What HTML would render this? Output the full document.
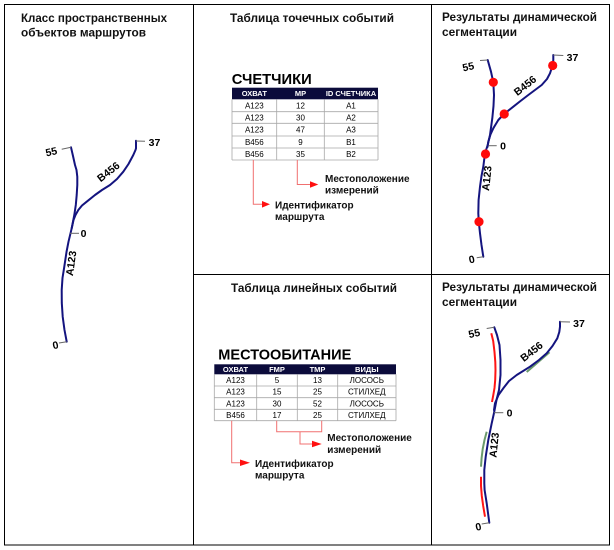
<!DOCTYPE html>
<html>
<head>
<meta charset="utf-8">
<style>
  html,body{margin:0;padding:0;background:#fff;}
  svg{display:block;}
  text{font-family:"Liberation Sans","Noto Sans CJK SC",sans-serif;}
  .title{font-size:11.5px;font-weight:bold;fill:#111;}
  .tt{font-size:15px;font-weight:bold;fill:#000;}
  .th{font-size:7.5px;font-weight:bold;fill:#fff;}
  .td{font-size:8px;fill:#000;}
  .ann{font-size:10px;font-weight:bold;fill:#111;}
  .lab{font-size:10.5px;font-weight:bold;fill:#000;}
  .route{fill:none;stroke:#14147f;stroke-width:2;stroke-linejoin:round;stroke-linecap:round;}
  .tick{stroke:#666;stroke-width:1;fill:none;}
  .grid{stroke:#a8a8a8;stroke-width:0.8;}
  .conn{stroke:#f07070;stroke-width:1;fill:none;}
</style>
</head>
<body>
<svg width="614" height="550" viewBox="0 0 614 550" xmlns="http://www.w3.org/2000/svg">
  <!-- frame -->
  <rect x="4.5" y="4.5" width="605" height="540.5" fill="none" stroke="#000" stroke-width="1"/>
  <line x1="193.5" y1="4.5" x2="193.5" y2="545" stroke="#000" stroke-width="1"/>
  <line x1="431.5" y1="4.5" x2="431.5" y2="545" stroke="#000" stroke-width="1"/>
  <line x1="193.5" y1="274.5" x2="609.5" y2="274.5" stroke="#000" stroke-width="1"/>

  <!-- titles -->
  <text class="title" x="21" y="22" textLength="146" lengthAdjust="spacingAndGlyphs">Класс пространственных</text>
  <text class="title" x="21" y="36.5" textLength="125" lengthAdjust="spacingAndGlyphs">объектов маршрутов</text>
  <text class="title" x="230" y="22" textLength="164" lengthAdjust="spacingAndGlyphs">Таблица точечных событий</text>
  <text class="title" x="442" y="21" textLength="155" lengthAdjust="spacingAndGlyphs">Результаты динамической</text>
  <text class="title" x="442" y="36" textLength="75" lengthAdjust="spacingAndGlyphs">сегментации</text>
  <text class="title" x="231" y="292" textLength="166" lengthAdjust="spacingAndGlyphs">Таблица линейных событий</text>
  <text class="title" x="442" y="291" textLength="155" lengthAdjust="spacingAndGlyphs">Результаты динамической</text>
  <text class="title" x="442" y="306" textLength="75" lengthAdjust="spacingAndGlyphs">сегментации</text>

  <!-- ===== Left panel map ===== -->
  <polyline class="route" points="66.7,341.7 64.5,330 62.7,316.7 61.8,303 61.7,290 62.5,278 64.3,266.7 66.5,252 68.5,241.7 71.7,228.3 74.3,215 75.8,205 76.7,195 77.3,185 77.3,176.7 76.5,170 75,165 73,156 71,147.3"/>
  <polyline class="route" points="71.7,228.3 73.5,220 75.5,215 78.3,210 82,205.5 86.7,201.7 95,195 102,190 110,185 117,179 123.3,171.7 128.5,164 133.3,155 135.5,150 136,148.3 136,140.7"/>
  <line class="tick" x1="71" y1="147.3" x2="61.7" y2="149.3"/>
  <line class="tick" x1="136" y1="141" x2="145" y2="141.3"/>
  <line class="tick" x1="70" y1="233.3" x2="79" y2="233.3"/>
  <line class="tick" x1="66.7" y1="341.7" x2="59" y2="343"/>
  <text class="lab" x="51.3" y="151.7" dy="0.35em" text-anchor="middle" transform="rotate(-12 51.3 151.7)">55</text>
  <text class="lab" x="154.5" y="142.3" dy="0.35em" text-anchor="middle">37</text>
  <text class="lab" x="83.5" y="233.3" dy="0.35em" text-anchor="middle">0</text>
  <text class="lab" x="55.5" y="345" dy="0.35em" text-anchor="middle" transform="rotate(-12 55.5 345)">0</text>
  <text class="lab" x="108.3" y="171.7" dy="0.35em" text-anchor="middle" transform="rotate(-38 108.3 171.7)">B456</text>
  <text class="lab" x="71" y="263.3" dy="0.35em" text-anchor="middle" transform="rotate(-82 71 263.3)">A123</text>

  <!-- ===== Top middle: point events table ===== -->
  <text class="tt" x="231.7" y="84" textLength="80" lengthAdjust="spacingAndGlyphs">СЧЕТЧИКИ</text>
  <rect x="232" y="87.7" width="146" height="11.6" fill="#0b0b3b"/>
  <text class="th" x="254.3" y="96" text-anchor="middle">ОХВАТ</text>
  <text class="th" x="300.5" y="96" text-anchor="middle">MP</text>
  <text class="th" x="351" y="96" text-anchor="middle">ID СЧЕТЧИКА</text>
  <g class="grid">
    <line x1="232" y1="111.7" x2="378" y2="111.7"/>
    <line x1="232" y1="123.3" x2="378" y2="123.3"/>
    <line x1="232" y1="136" x2="378" y2="136"/>
    <line x1="232" y1="148" x2="378" y2="148"/>
    <line x1="232" y1="160" x2="378" y2="160"/>
    <line x1="232" y1="99.3" x2="232" y2="160"/>
    <line x1="276.7" y1="99.3" x2="276.7" y2="160"/>
    <line x1="324.3" y1="99.3" x2="324.3" y2="160"/>
    <line x1="378" y1="99.3" x2="378" y2="160"/>
  </g>
  <g class="td" text-anchor="middle">
    <text x="254.3" y="108.5">A123</text><text x="300.5" y="108.5">12</text><text x="351" y="108.5">A1</text>
    <text x="254.3" y="120.5">A123</text><text x="300.5" y="120.5">30</text><text x="351" y="120.5">A2</text>
    <text x="254.3" y="132.5">A123</text><text x="300.5" y="132.5">47</text><text x="351" y="132.5">A3</text>
    <text x="254.3" y="145">B456</text><text x="300.5" y="145">9</text><text x="351" y="145">B1</text>
    <text x="254.3" y="157">B456</text><text x="300.5" y="157">35</text><text x="351" y="157">B2</text>
  </g>
  <polyline class="conn" points="253.3,160 253.3,204.3 263,204.3"/>
  <polygon points="262,201 262,207.6 270,204.3" fill="#ff1010"/>
  <polyline class="conn" points="297.3,160 297.3,184.5 311,184.5"/>
  <polygon points="310,181.3 310,187.8 318.3,184.5" fill="#ff1010"/>
  <text class="ann" x="325" y="182">Местоположение</text>
  <text class="ann" x="325" y="193.5">измерений</text>
  <text class="ann" x="275" y="208.5">Идентификатор</text>
  <text class="ann" x="275" y="220">маршрута</text>

  <!-- ===== Top right: point results ===== -->
  <polyline class="route" points="483.3,256.7 481.5,245 480,233.3 478.8,222 478.3,213.3 478.6,200 480,186.7 481.5,176 483.3,166.7 485,153.3 487.7,145 490,135 492.3,118.3 493.5,106 494,95 493.3,82.3 491,71.7 487.7,60"/>
  <polyline class="route" points="487.5,147 488.3,141.7 490.5,134.5 493.3,128.3 498.3,120 504,114 513.3,106.7 520.5,101 528.3,95 541.7,85 547,79 550,73.3 552.7,65 553.3,60 553.3,55"/>
  <line class="tick" x1="487.7" y1="60" x2="480" y2="60.5"/>
  <line class="tick" x1="553.3" y1="55" x2="563.3" y2="55.5"/>
  <line class="tick" x1="488.3" y1="145.7" x2="496.7" y2="145.7"/>
  <line class="tick" x1="483.3" y1="256.7" x2="476.7" y2="257.7"/>
  <text class="lab" x="468.2" y="66.7" dy="0.35em" text-anchor="middle" transform="rotate(-12 468.2 66.7)">55</text>
  <text class="lab" x="572.5" y="57.3" dy="0.35em" text-anchor="middle">37</text>
  <text class="lab" x="503" y="145.7" dy="0.35em" text-anchor="middle">0</text>
  <text class="lab" x="471.7" y="259.3" dy="0.35em" text-anchor="middle" transform="rotate(-12 471.7 259.3)">0</text>
  <text class="lab" x="525" y="85.5" dy="0.35em" text-anchor="middle" transform="rotate(-38 525 85.5)">B456</text>
  <text class="lab" x="486.7" y="178.3" dy="0.35em" text-anchor="middle" transform="rotate(-84 486.7 178.3)">A123</text>
  <g fill="#ff0a0a">
    <circle cx="493.3" cy="82.3" r="4.6"/>
    <circle cx="552.7" cy="65.5" r="4.6"/>
    <circle cx="504.2" cy="114" r="4.6"/>
    <circle cx="485.5" cy="154" r="4.6"/>
    <circle cx="479" cy="221.7" r="4.6"/>
  </g>

  <!-- ===== Bottom middle: line events table ===== -->
  <text class="tt" x="218.3" y="359.3" textLength="133" lengthAdjust="spacingAndGlyphs">МЕСТООБИТАНИЕ</text>
  <rect x="214.3" y="364.3" width="181.7" height="10" fill="#0b0b3b"/>
  <text class="th" x="235.5" y="372" text-anchor="middle">ОХВАТ</text>
  <text class="th" x="277" y="372" text-anchor="middle">FMP</text>
  <text class="th" x="317.5" y="372" text-anchor="middle">TMP</text>
  <text class="th" x="366.8" y="372" text-anchor="middle">ВИДЫ</text>
  <g class="grid">
    <line x1="214.3" y1="386" x2="396" y2="386"/>
    <line x1="214.3" y1="397.7" x2="396" y2="397.7"/>
    <line x1="214.3" y1="409.3" x2="396" y2="409.3"/>
    <line x1="214.3" y1="420.7" x2="396" y2="420.7"/>
    <line x1="214.3" y1="374.3" x2="214.3" y2="420.7"/>
    <line x1="256.7" y1="374.3" x2="256.7" y2="420.7"/>
    <line x1="297.3" y1="374.3" x2="297.3" y2="420.7"/>
    <line x1="337.7" y1="374.3" x2="337.7" y2="420.7"/>
    <line x1="396" y1="374.3" x2="396" y2="420.7"/>
  </g>
  <g class="td" text-anchor="middle">
    <text x="235.5" y="383">A123</text><text x="277" y="383">5</text><text x="317.5" y="383">13</text><text x="366.8" y="383">ЛОСОСЬ</text>
    <text x="235.5" y="394.7">A123</text><text x="277" y="394.7">15</text><text x="317.5" y="394.7">25</text><text x="366.8" y="394.7">СТИЛХЕД</text>
    <text x="235.5" y="406.4">A123</text><text x="277" y="406.4">30</text><text x="317.5" y="406.4">52</text><text x="366.8" y="406.4">ЛОСОСЬ</text>
    <text x="235.5" y="418">B456</text><text x="277" y="418">17</text><text x="317.5" y="418">25</text><text x="366.8" y="418">СТИЛХЕД</text>
  </g>
  <polyline class="conn" points="276.7,420.7 276.7,431.7 321.7,431.7 321.7,420.7"/>
  <polyline class="conn" points="300,431.7 300,444 313,444"/>
  <polygon points="312,440.8 312,447.2 321.7,444" fill="#ff1010"/>
  <polyline class="conn" points="231.7,420.7 231.7,462.7 241,462.7"/>
  <polygon points="240,459.5 240,466 250,462.7" fill="#ff1010"/>
  <text class="ann" x="327.3" y="441">Местоположение</text>
  <text class="ann" x="327.3" y="453">измерений</text>
  <text class="ann" x="255" y="467">Идентификатор</text>
  <text class="ann" x="255" y="478.5">маршрута</text>

  <!-- ===== Bottom right: line results ===== -->
  <polyline fill="none" stroke="#ff1515" stroke-width="2" stroke-linecap="butt" points="491.3,333.3 493.2,341 494.5,352 495.3,362 495.5,370 495.2,380 494.5,388 493.3,395 492,402"/>
  <polyline fill="none" stroke="#ff1515" stroke-width="2" points="481,476.7 481,486 481.8,496 483.2,506 485,516.7"/>
  <polyline fill="none" stroke="#6b9a6b" stroke-width="2" points="486.7,431.7 484.5,440 482.7,449 481.6,458 481,466.7"/>
  <line x1="526.7" y1="372" x2="549.5" y2="352.3" stroke="#6b9a6b" stroke-width="2"/>
  <polyline class="route" points="489.3,522.7 486.7,503.3 484.6,490 484.3,483.3 484.3,470 485.7,456.7 488.3,440 491.7,423.3 494,413 496.5,400 499,390 500.5,375 500.5,360 499.5,345 497,335 494.3,327.3"/>
  <polyline class="route" points="494,410 495,403.3 498.5,395 503.3,388.3 509,381 516.7,375 530,366.7 539,360 546.7,353.3 552.5,346 557.3,338.3 559.3,332 560,326.7 560,321.7"/>
  <line class="tick" x1="494.3" y1="327.3" x2="486.7" y2="328.5"/>
  <line class="tick" x1="560" y1="321.7" x2="570" y2="322"/>
  <line class="tick" x1="494" y1="412.7" x2="503.3" y2="412.7"/>
  <line class="tick" x1="489.3" y1="522.7" x2="481.7" y2="524"/>
  <text class="lab" x="474.2" y="333.3" dy="0.35em" text-anchor="middle" transform="rotate(-12 474.2 333.3)">55</text>
  <text class="lab" x="579" y="323.3" dy="0.35em" text-anchor="middle">37</text>
  <text class="lab" x="509.5" y="413" dy="0.35em" text-anchor="middle">0</text>
  <text class="lab" x="478.3" y="526.7" dy="0.35em" text-anchor="middle" transform="rotate(-12 478.3 526.7)">0</text>
  <text class="lab" x="531.5" y="351.5" dy="0.35em" text-anchor="middle" transform="rotate(-38 531.5 351.5)">B456</text>
  <text class="lab" x="494" y="445" dy="0.35em" text-anchor="middle" transform="rotate(-84 494 445)">A123</text>
</svg>
</body>
</html>
